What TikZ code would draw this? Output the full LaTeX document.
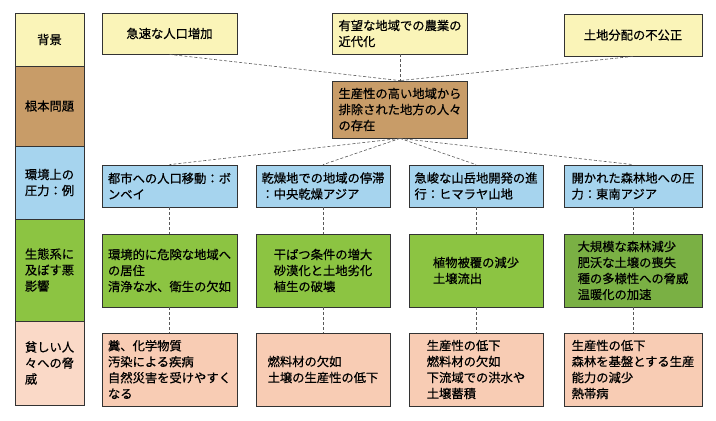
\documentclass[tikz,border=0pt]{standalone}
\usepackage{fontspec}
\usepackage{xcolor}
\newfontfamily\jpfont[FakeBold=0.6]{Noto Sans CJK JP}

\definecolor{bgyellow}{RGB}{250,244,184}
\definecolor{rootbrown}{RGB}{200,156,104}
\definecolor{prblue}{RGB}{166,212,238}
\definecolor{ecgreen}{RGB}{140,196,66}
\definecolor{ecdark}{RGB}{122,176,68}
\definecolor{thpink}{RGB}{248,204,180}

\begin{document}
\begin{tikzpicture}[x=1pt,y=-1pt,
  box/.style={draw=black!80, line width=0.8pt, inner sep=0pt, align=left,
    font=\jpfont\fontsize{12.3}{16}\selectfont, minimum width=135pt},
  headcell/.style={box, minimum width=69pt},
  link/.style={draw=black!65, line width=0.6pt, dash pattern=on 3pt off 2pt}]

\useasboundingbox (0,0) rectangle (716,421);

% left column
\node[headcell, fill=bgyellow, minimum height=53pt] (hbg) at (49.5,39.5) {背景};
\node[headcell, fill=rootbrown, minimum height=80pt] (hroot) at (49.5,106) {根本問題};
\node[headcell, fill=prblue, minimum height=73pt] (hpr) at (49.5,182.5) {環境上の\\圧力：例};
\node[headcell, fill=ecgreen, minimum height=102pt] (hec) at (49.5,270) {生態系に\\及ぼす悪\\影響};
\node[headcell, fill=thpink!75!white, minimum height=84pt] (hth) at (49.5,363) {貧しい人\\々への脅\\威};


% background
\node[box, fill=bgyellow, minimum height=41pt] (bg1) at (169.5,33.5) {急速な人口増加};
\node[box, fill=bgyellow, minimum height=41pt] (bg2) at (400,33.5) {有望な地域での農業の\\近代化};
\node[box, fill=bgyellow, minimum height=42pt, minimum width=138pt] (bg3) at (633,35) {土地分配の不公正};

% root problem
\node[box, fill=rootbrown, minimum height=57pt] (root) at (400,109.5) {生産性の高い地域から\\排除された地方の人々\\の存在};


% pressures
\node[box, fill=prblue, minimum height=42pt] (pr1) at (169.5,186) {都市への人口移動：ボ\\ンベイ};
\node[box, fill=prblue, minimum height=42pt, minimum width=134pt] (pr2) at (323,186) {乾燥地での地域の停滞\\：中央乾燥アジア};
\node[box, fill=prblue, minimum height=42pt, minimum width=134pt] (pr3) at (476,186) {急峻な山岳地開発の進\\行：ヒマラヤ山地};
\node[box, fill=prblue, minimum height=42pt, minimum width=138pt] (pr4) at (633,186) {開かれた森林地への圧\\力：東南アジア};

% ecosystem
\node[box, fill=ecgreen, minimum height=73pt] (ec1) at (169.5,270.5) {環境的に危険な地域へ\\の居住\\清浄な水、衛生の欠如};
\node[box, fill=ecgreen, minimum height=73pt, minimum width=134pt] (ec2) at (323,270.5) {干ばつ条件の増大\\砂漠化と土地劣化\\植生の破壊};
\node[box, fill=ecgreen, minimum height=73pt, minimum width=134pt] (ec3) at (476,270.5) {植物被覆の減少\\土壌流出};
\node[box, fill=ecdark, minimum height=73pt, minimum width=138pt] (ec4) at (633,270.5) {大規模な森林減少\\肥沃な土壌の喪失\\種の多様性への脅威\\温暖化の加速};

% threats
\node[box, fill=thpink, minimum height=73pt] (th1) at (169.5,369.5) {糞、化学物質\\汚染による疾病\\自然災害を受けやすく\\なる};
\node[box, fill=thpink, minimum height=73pt, minimum width=134pt] (th2) at (323,369.5) {燃料材の欠如\\土壌の生産性の低下};
\node[box, fill=thpink, minimum height=73pt, minimum width=134pt] (th3) at (476,369.5) {生産性の低下\\燃料材の欠如\\下流域での洪水や\\土壌蓄積};
\node[box, fill=thpink, minimum height=73pt, minimum width=138pt] (th4) at (633,369.5) {生産性の低下\\森林を基盤とする生産\\能力の減少\\熱帯病};


\foreach \b in {bg1,bg2,bg3}
  \draw[link] (\b.south) -- (root.north);

\foreach \i in {1,...,4}{
  \draw[link] (root.south) -- (pr\i.north);
  \draw[link] (pr\i.south) -- (ec\i.north);
  \draw[link] (ec\i.south) -- (th\i.north);
}

\end{tikzpicture}
\end{document}
